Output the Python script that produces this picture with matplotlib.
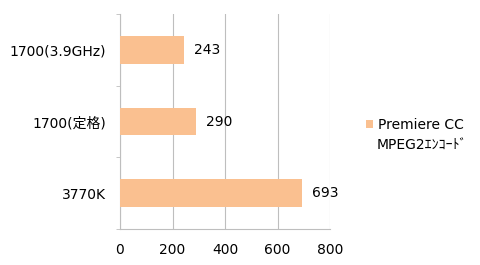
import matplotlib
matplotlib.use("Agg")
import matplotlib.pyplot as plt

plt.rcParams['font.family'] = ['DejaVu Sans', 'Noto Sans CJK JP']

categories = ['3770K', '1700(定格)', '1700(3.9GHz)']
values = [693, 290, 243]
series_name = ['Premiere CC', 'MPEG2ｴﾝｺｰﾄﾞ']
xticks = [0, 200, 400, 600, 800]

bar_color = '#FAC090'
grid_color = '#BEBEBE'
fs = 10

fig = plt.figure(figsize=(4.8, 2.65), dpi=100)
ax = fig.add_axes([120 / 480, 1 - 229 / 265, 210 / 480, 215 / 265])

pos = list(range(len(categories)))
ax.barh(pos, values, height=0.39, color=bar_color, label=series_name[0], zorder=3)

for p, v in zip(pos, values):
    ax.annotate(str(v), (v, p), xytext=(7, 0), textcoords='offset points',
                va='center', ha='left', fontsize=fs)

ax.set_xlim(0, 800)
ax.set_ylim(-0.5, len(categories) - 0.5)
ax.set_xticks(xticks)
ax.set_xticklabels([str(t) for t in xticks], fontsize=fs)
ax.set_yticks(pos)
ax.set_yticklabels(categories, fontsize=fs)
ax.tick_params(axis='y', length=0, pad=10)
ax.tick_params(axis='x', length=0, pad=10)

# category boundary tick marks and end marks on the value axis
ax.set_yticks([-0.5, 0.5, 1.5, 2.5], minor=True)
ax.tick_params(axis='y', which='minor', length=3, color=grid_color)
ax.set_xticks([0, 800], minor=True)
ax.tick_params(axis='x', which='minor', length=3, color=grid_color)

ax.grid(axis='x', color=grid_color, linewidth=0.8, zorder=0)
for s in ['top', 'right']:
    ax.spines[s].set_visible(False)
ax.spines['left'].set_color(grid_color)
ax.spines['bottom'].set_color(grid_color)

fig.legend(loc='upper left', bbox_to_anchor=(366 / 480, 1 - 118 / 265),
           frameon=False, fontsize=fs, handlelength=0.5, handleheight=0.5,
           handletextpad=0.35, borderpad=0, borderaxespad=0)
fig.text(377 / 480, 1 - 146 / 265, series_name[1], fontsize=fs, va='center', ha='left')

fig.savefig('out.png', dpi=100)
